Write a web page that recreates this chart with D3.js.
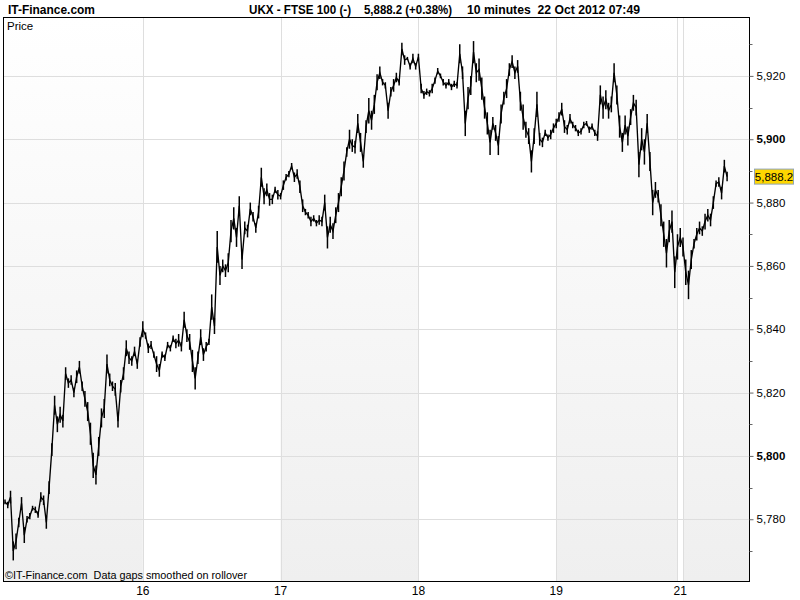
<!DOCTYPE html>
<html><head><meta charset="utf-8">
<script src="https://cdn.jsdelivr.net/npm/d3@7"></script>
<style>
body{margin:0;background:#fff}
text{font-family:"Liberation Sans Narrow","Arial Narrow","Liberation Sans",Arial,sans-serif}
.ax{font-family:"Liberation Sans",Arial,sans-serif}
</style>
</head><body><svg id="c" width="800" height="600"></svg>
<script>
// ---- data (one value per bar, FTSE 100 intraday) ----
const session15 = [5785.5,5784.5,5787,5770,5773,5779,5785,5775,5780,5781,5783.5,5783,5781.5,5787,5786,5779,5790,5802,5816,5810,5813,5811,5826,5823,5824,5820,5825,5828,5822,5818,5814,5807,5797,5794,5803,5812,5815,5829,5824,5822,5821,5811,5822,5826,5834,5831,5830,5833,5829,5836];
const session16 = [5840,5838,5834,5835,5832,5829,5827,5832,5831,5835,5834,5837,5835.5,5836.5,5834.5,5843,5838,5836,5830,5824.5,5831,5837.5,5832,5834.5,5836,5847,5841,5866,5857,5860,5858.5,5861,5871,5875,5869,5879,5862,5872,5871,5878,5875.5,5872,5877,5888,5882,5884,5881,5881,5884,5882.5];
const session17 = [5882,5885.5,5888,5889,5891.5,5888,5889,5885,5879,5877,5876,5874,5875,5873.5,5874.5,5874,5880,5869,5873,5871,5876,5880,5885,5890,5896,5900,5898,5897.5,5905,5899,5893,5904,5909,5906,5911,5918,5921,5918,5917,5909,5915,5917,5919.5,5918,5928.5,5925,5925.5,5923,5925.5,5923];
const session18 = [5926,5916,5914,5915,5914.5,5916,5918.5,5921.5,5920,5918,5917,5918,5916.5,5917.5,5917,5927,5921,5905,5913,5917,5927.5,5921,5922,5916,5910,5905,5899,5905,5902,5898,5908,5913,5916,5922,5924.5,5921,5923,5912,5907,5903,5901,5893,5901,5911,5900,5899,5902,5900.5,5901.5,5903.5];
const session19 = [5905,5907,5909.5,5904,5903,5906.5,5904.5,5903.5,5902,5902.5,5904.5,5905,5903,5904,5902,5901,5914,5910,5912.5,5909,5911,5921,5914,5904,5899,5904.5,5901,5907,5911.5,5910,5892,5900,5896,5905,5893,5880,5884,5882,5876,5870,5864,5871,5874,5858];
const session21 = [5866,5869,5866,5858,5854,5862,5867,5870,5872,5871,5874,5876,5874.5,5880,5886,5886.5,5883,5891.5,5888.2];
const prices = [].concat(session15, session16, session17, session18, session19, session21);

// high-low swing within each bar (index points)
const swing15 = [1.5,2,4,6,5,3,4,5,2,2,1.5,2,2,3,3,4,4,4,6,5,5,4,4,3,3,3,4,4,3,5,6,7,8,6,6,6,6,6,4,3,4,4,4,4,5,4,3,3,3,3];
const swing16 = [5,2,3,2.5,2,5,4,2,2,2,2,2,3,4,3,5,4,5,7,7,4,5,4,3,2,8,5,10,6,4,4,6,7,7,6,6,6,4,4,4,3,3,4,6,5,4,4,3,2,3];
const swing17 = [2,3,2,2,2,3,3,4,4,2,2,3,2,2,3,3,5,7,5,5,5,6,6,6,3,6,4,4,6,6,4,4,8,6,6,5,4,2,2,5,3,4,3,2,4,3,1,2,3,2];
const swing18 = [2,3,2.5,2,2,3,2,2,1.5,2,2,2,2,2,2,6,4,8,7,6,7,6,7,7,7,7,8,4,5,6,6,4,6,4,4,4,4,6,8,5,5,7,5,8,4,3,2,2,3,3];
const swing19 = [3,3,4,4,3,3,2,2,2,2,2,1.5,2,2,2,3,6,7,6,5,5,6,6,7,6,6,6,5,5,5,8,7,8,6,6,8,5,4,7,8,9,7,7,10];
const swing21 = [8,6,6,8,9,6,3,4,4,3,5,4,4,4,2,3,4,4,3];
const swings = [].concat(swing15, swing16, swing17, swing18, swing19, swing21);

const dayGridIndex = [50, 100, 150, 200, 244, 246];
const dayTickIndex = [50, 100, 150, 200, 245];
const dayTickLabels = ["16", "17", "18", "19", "21"];
const shadedSessions = [[null, 50], [100, 150], [200, 244], [246, null]];
const priceTicks = [5780, 5800, 5820, 5840, 5860, 5880, 5900, 5920];
const priceMinorTicks = [5770, 5790, 5810, 5830, 5850, 5870, 5890, 5910, 5930];
const lastPrice = 5888.2;
const brand = "IT-Finance.com";
const titleParts = ["UKX - FTSE 100 (-)", "5,888.2 (+0.38%)", "10 minutes  22 Oct 2012 07:49"];
const footnote = "\u00A9IT-Finance.com  Data gaps smoothed on rollover";

// ---- layout ----
const svg = d3.select("#c");
const L = 3.5, R = 749.5, T = 17.5, B = 581.5;

const x = d3.scaleLinear().domain([0, prices.length - 1]).range([5, 727.1]);
const y = d3.scaleLinear().domain([5760.5, 5938.6]).range([581, 17]);

const defs = svg.append("defs");
const g = defs.append("linearGradient").attr("id", "band").attr("x1", 0).attr("x2", 0).attr("y1", 0).attr("y2", 1);
g.append("stop").attr("offset", "0%").attr("stop-color", "#ffffff");
g.append("stop").attr("offset", "100%").attr("stop-color", "#efefef");

// bands
svg.append("g").selectAll("rect").data(shadedSessions).join("rect")
  .attr("x", d => d[0] === null ? L : x(d[0]))
  .attr("y", T)
  .attr("width", d => (d[1] === null ? R : x(d[1])) - (d[0] === null ? L : x(d[0])))
  .attr("height", B - T)
  .attr("fill", "url(#band)");

// horizontal gridlines
svg.append("g").selectAll("line").data(priceTicks).join("line")
  .attr("x1", L).attr("x2", R)
  .attr("y1", d => Math.round(y(d)) + 0.5).attr("y2", d => Math.round(y(d)) + 0.5)
  .attr("stroke", "#dedede");

// vertical gridlines
svg.append("g").selectAll("line").data(dayGridIndex).join("line")
  .attr("x1", d => Math.round(x(d)) + 0.5).attr("x2", d => Math.round(x(d)) + 0.5)
  .attr("y1", T).attr("y2", B)
  .attr("stroke", "#dedede");

// bar ranges
svg.append("g").selectAll("line").data(prices).join("line")
  .attr("x1", (d, i) => x(i)).attr("x2", (d, i) => x(i))
  .attr("y1", (d, i) => y(d + swings[i] / 2)).attr("y2", (d, i) => y(d - swings[i] / 2))
  .attr("stroke", "#000").attr("stroke-width", 1.5);

// price line
svg.append("path").datum(prices)
  .attr("d", d3.line().x((d, i) => x(i)).y(d => y(d)))
  .attr("fill", "none").attr("stroke", "#000").attr("stroke-width", 1.35)
  .attr("stroke-linejoin", "miter");

// frame
svg.append("rect").attr("x", L).attr("y", T).attr("width", R - L).attr("height", B - T)
  .attr("fill", "none").attr("stroke", "#000");

// right axis
const yAxis = d3.axisRight(y).tickValues(priceTicks).tickSize(4).tickPadding(3)
  .tickFormat(d3.format(","));
const ax = svg.append("g").attr("transform", `translate(${R},0)`).call(yAxis);
ax.select(".domain").remove();
ax.selectAll("text").attr("class", "ax").attr("font-size", 11.5).attr("fill", "#000")
  .attr("font-weight", d => d % 100 === 0 ? "bold" : "normal");
ax.selectAll("line").attr("stroke", "#666");
svg.append("g").selectAll("line").data(priceMinorTicks).join("line")
  .attr("x1", R).attr("x2", R + 3)
  .attr("y1", d => Math.round(y(d)) + 0.5).attr("y2", d => Math.round(y(d)) + 0.5)
  .attr("stroke", "#666");

// last price box
const lp = svg.append("g").attr("transform", `translate(754,${y(lastPrice)})`);
lp.append("rect").attr("x", 0.5).attr("y", -7.5).attr("width", 39).attr("height", 15)
  .attr("fill", "#ffd700").attr("stroke", "#90a4b8");
lp.append("text").attr("class", "ax").attr("x", 20).attr("y", 4).attr("text-anchor", "middle")
  .attr("font-size", 11.5).text(d3.format(",.1f")(lastPrice));

// bottom labels
svg.append("g").selectAll("text").data(dayTickIndex).join("text")
  .attr("x", d => x(d)).attr("y", 595).attr("text-anchor", "middle")
  .attr("font-size", 12).text((d, i) => dayTickLabels[i]);

// header
svg.append("text").attr("x", 8).attr("y", 14).attr("font-size", 13).attr("font-weight", "bold")
  .attr("textLength", 87).attr("lengthAdjust", "spacingAndGlyphs").text(brand);
const tx = [249, 364, 467], tw = [102, 88, 173];
titleParts.forEach((t, i) => {
  svg.append("text").attr("x", tx[i]).attr("y", 14).attr("font-size", 13).attr("font-weight", "bold")
    .attr("xml:space", "preserve").style("white-space", "pre")
    .attr("textLength", tw[i]).attr("lengthAdjust", "spacingAndGlyphs").text(t);
});
svg.append("text").attr("x", 7).attr("y", 30).attr("font-size", 11.5).text("Price");
svg.append("text").attr("x", 5).attr("y", 579).attr("font-size", 11.5)
  .attr("xml:space", "preserve").style("white-space", "pre")
  .attr("textLength", 242).attr("lengthAdjust", "spacingAndGlyphs").text(footnote);
</script>
</body></html>
